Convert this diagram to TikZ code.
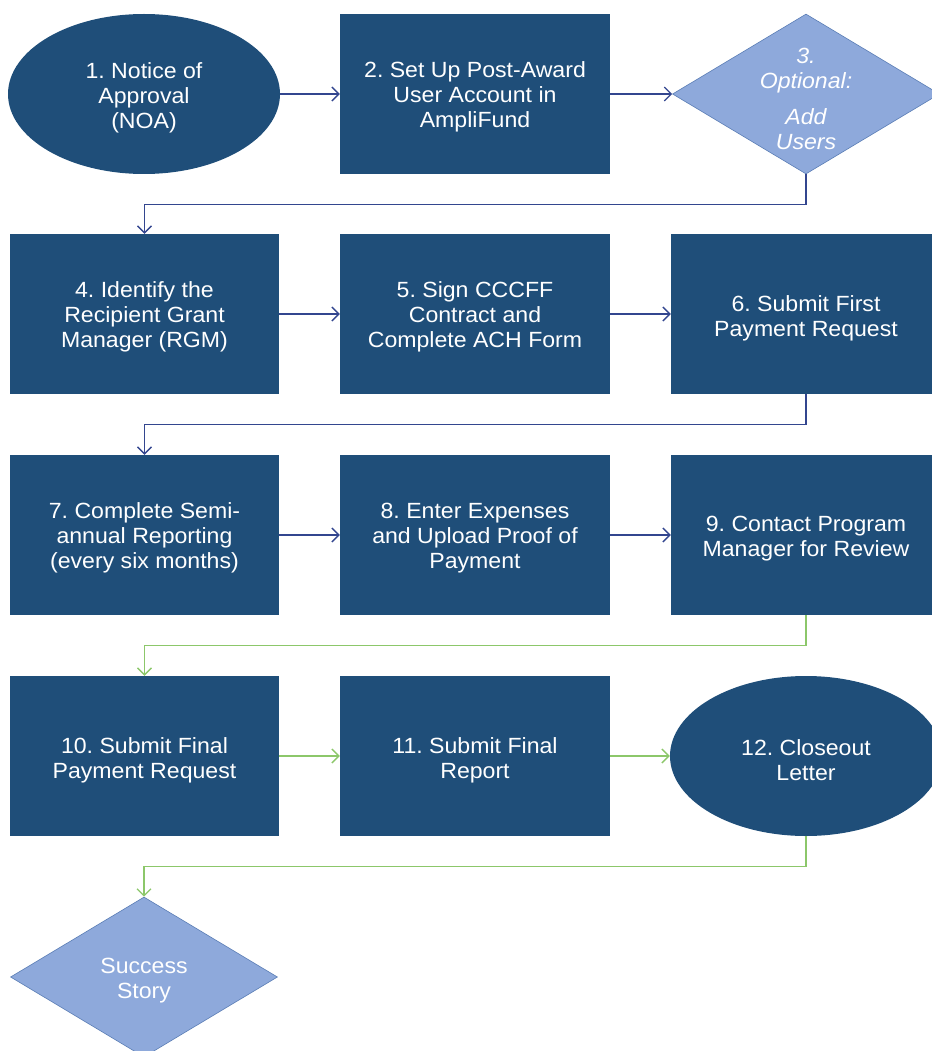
\documentclass[tikz,border=0pt]{standalone}
\usepackage{fontspec}
\setmainfont{Liberation Sans}[FakeStretch=1.05]
\usetikzlibrary{shapes.geometric,arrows.meta}
\definecolor{boxblue}{HTML}{1F4E79}
\definecolor{lightblue}{HTML}{8EA9DB}
\definecolor{diamedge}{HTML}{5A7DB5}
\definecolor{navyline}{HTML}{33468F}
\definecolor{greenline}{HTML}{8CC76A}
\frenchspacing
\begin{document}
\begin{tikzpicture}[x=1pt,y=-1pt,
  every node/.style={text=white,align=center,inner sep=0pt,font=\fontsize{22}{25}\selectfont\frenchspacing},
  stepbox/.style={rectangle,fill=boxblue,minimum width=270pt,minimum height=160pt},
  oval/.style={ellipse,fill=boxblue,minimum width=272pt,minimum height=160pt},
  choice/.style={diamond,fill=lightblue,draw=diamedge,line width=0.6pt,minimum width=267pt,minimum height=160pt},
  navyarrow/.style={draw=navyline,line width=1.3pt,-{Straight Barb[length=7pt,width=14pt,line width=1.3pt]}},
  greenarrow/.style={draw=greenline,line width=1.3pt,-{Straight Barb[length=7pt,width=14pt,line width=1.3pt]}}]
\path[use as bounding box] (0,0) rectangle (931,1051);
% row 1
\node[oval] (n1) at (144,94) {};
\node (n1t) at (144,98) {1. Notice of\\Approval\\(NOA)};
\node[stepbox] (n2) at (475,94) {};
\node (n2t) at (475,97) {2. Set Up Post-Award\\User Account in\\AmpliFund};
\node[choice] (n3) at (806,94) {};
\node (n3t) at (806,99) {\itshape 3.\\\itshape Optional:\\[11pt]\itshape Add\\\itshape Users};
% row 2
\node[stepbox,minimum width=269pt] (n4) at (144.5,314) {};
\node (n4t) at (144.5,317) {4. Identify the\\Recipient Grant\\Manager (RGM)};
\node[stepbox] (n5) at (475,314) {};
\node (n5t) at (475,317) {5. Sign CCCFF\\Contract and\\Complete ACH Form};
\node[stepbox] (n6) at (806,314) {};
\node (n6t) at (806,318) {6. Submit First\\Payment Request};
% row 3
\node[stepbox,minimum width=269pt] (n7) at (144.5,535) {};
\node (n7t) at (144.5,538) {7. Complete Semi-\\annual Reporting\\(every six months)};
\node[stepbox] (n8) at (475,535) {};
\node (n8t) at (475,538) {8. Enter Expenses\\and Upload Proof of\\Payment};
\node[stepbox] (n9) at (806,535) {};
\node (n9t) at (806,539) {9. Contact Program\\Manager for Review};
% row 4
\node[stepbox,minimum width=269pt] (n10) at (144.5,756) {};
\node (n10t) at (144.5,760) {10. Submit Final\\Payment Request};
\node[stepbox] (n11) at (475,756) {};
\node (n11t) at (475,760) {11. Submit Final\\Report};
\node[oval] (n12) at (806,756) {};
\node (n12t) at (806,760) {12. Closeout\\Letter};
% final
\node[choice] (n13) at (144,977) {};
\node (n13t) at (144,981) {Success\\Story};
% connectors
\draw[navyarrow] (n1.east) -- (n2.west);
\draw[navyarrow] (n2.east) -- (n3.west);
\draw[navyarrow] (n3.south) -- ++(0,30) -| (n4.north);
\draw[navyarrow] (n4.east) -- (n5.west);
\draw[navyarrow] (n5.east) -- (n6.west);
\draw[navyarrow] (n6.south) -- ++(0,30) -| (n7.north);
\draw[navyarrow] (n7.east) -- (n8.west);
\draw[navyarrow] (n8.east) -- (n9.west);
\draw[greenarrow] (n9.south) -- ++(0,30) -| (n10.north);
\draw[greenarrow] (n10.east) -- (n11.west);
\draw[greenarrow] (n11.east) -- (n12.west);
\draw[greenarrow] (n12.south) -- ++(0,30) -| (n13.north);
\end{tikzpicture}
\end{document}
